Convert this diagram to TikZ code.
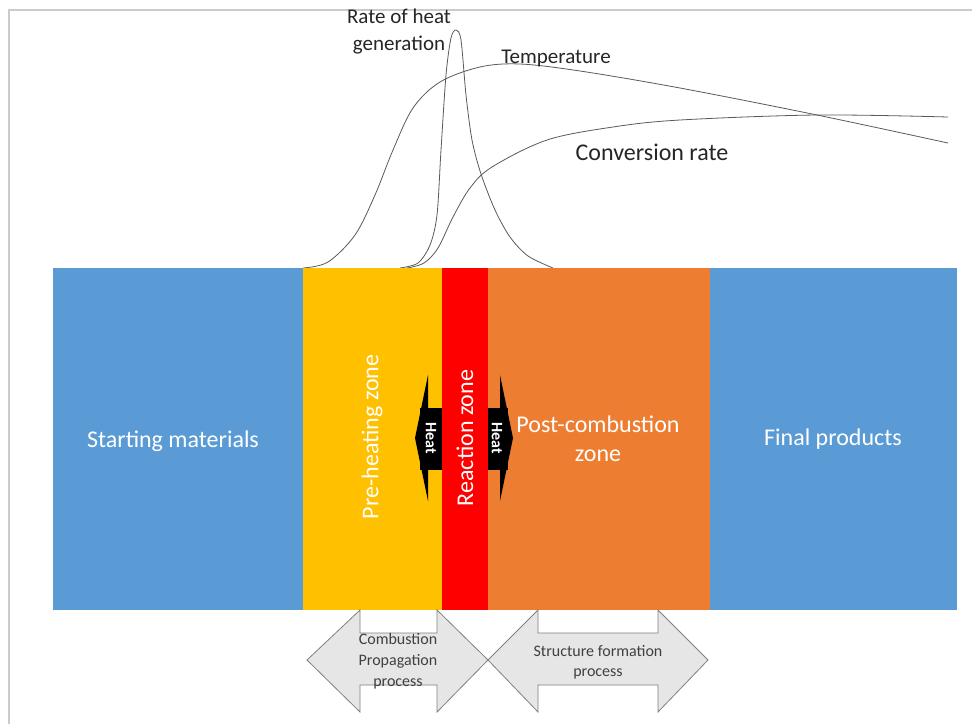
\documentclass[tikz,border=0pt]{standalone}
\usepackage{fontspec}
\setmainfont{Carlito}
\definecolor{zblue}{HTML}{5B9BD5}
\definecolor{zyellow}{HTML}{FFC000}
\definecolor{zred}{HTML}{FF0000}
\definecolor{zorange}{HTML}{ED7D31}
\definecolor{zgrayfill}{HTML}{E7E6E6}
\definecolor{zgrayline}{HTML}{808080}
\definecolor{zcurve}{HTML}{5A5A5A}
\definecolor{zframe}{HTML}{C8CCCC}
\tikzset{
  zone/.style={draw=none, inner sep=0pt, anchor=north west},
  zlabel/.style={text=white, font=\fontsize{24}{29}\selectfont, align=center},
  heatarrow/.style={fill=black, draw=none},
  heattext/.style={text=white, font=\fontsize{16}{17}\selectfont\bfseries, rotate=-90, inner sep=0pt},
  procarrow/.style={fill=zgrayfill, draw=zgrayline, line width=0.8pt, line join=miter},
  proctext/.style={text=black!75, font=\fontsize{16}{21}\selectfont, align=center},
  curve/.style={draw=zcurve, line width=0.8pt},
  curvelabel/.style={text=black!85, font=\fontsize{22}{27}\selectfont, align=center}
}
\begin{document}
\begin{tikzpicture}[x=1pt, y=-1pt]
\useasboundingbox (0,0) rectangle (972,724);
\fill[white] (0,0) rectangle (972,724);
% frame
\draw[zframe, line width=1.5pt] (9,724) -- (9,10) -- (972,10);
% curves
\draw[curve] plot[smooth, tension=0.55] coordinates {(303,268) (328,262) (355,235) (375,195) (393,150) (413,108) (440,82) (480,67) (520,64) (580,71) (680,88) (817,115) (948,143)};
\draw[curve] plot[smooth, tension=0.55] coordinates {(407,268) (424,263) (438,248) (453,217) (470,188) (492,167) (547,140) (613,127) (680,120) (817,115) (948,117)};
\draw[curve] plot[smooth, tension=0.5] coordinates {(400,268) (418,263) (430,245) (437,215) (441,150) (446,75) (451,38) (456,30) (461,40) (466,95) (472,140) (481,174) (495,210) (510,237) (528,256) (553,268)};
% curve labels
\node[curvelabel, font=\fontsize{21}{27}\selectfont] (rate) at (399,32) {Rate of heat\\generation};
\node[curvelabel, font=\fontsize{21}{25}\selectfont] (temp) at (556,58) {Temperature};
\node[curvelabel, font=\fontsize{24}{28}\selectfont] (conv) at (652,152) {Conversion rate};
% zones
\node[zone, fill=zblue, minimum width=250pt, minimum height=342pt] (start) at (53,268) {};
\node[zone, fill=zyellow, minimum width=139pt, minimum height=342pt] (pre) at (303,268) {};
\node[zone, fill=zred, minimum width=46pt, minimum height=342pt] (react) at (442,268) {};
\node[zone, fill=zorange, minimum width=222pt, minimum height=342pt] (post) at (488,268) {};
\node[zone, fill=zblue, minimum width=247pt, minimum height=342pt] (final) at (710,268) {};
% zone labels
\node[zlabel] (startlbl) at (173,441) {Starting materials};
\node[zlabel] (finallbl) at (833,439) {Final products};
\node[zlabel, rotate=90] (prelbl) at (372,437) {Pre-heating zone};
\node[zlabel, rotate=90] (reactlbl) at (465,438) {Reaction zone};
\node[zlabel] (postlbl) at (598,439) {Post-combustion\\zone};
% heat arrows
\fill[heatarrow] (428,375) -- (415,438) -- (428,501) -- cycle;
\fill[heatarrow] (420,408) rectangle (442,470);
\fill[heatarrow] (500,375) -- (513,438) -- (500,501) -- cycle;
\fill[heatarrow] (488,408) rectangle (508,470);
\node[heattext] (heatL) at (431,438) {Heat};
\node[heattext] (heatR) at (497,438) {Heat};
% process arrows
\draw[procarrow] (307,660) -- (360,610) -- (360,633) -- (437,633) -- (437,610) -- (488,660) -- (437,712) -- (437,685) -- (360,685) -- (360,712) -- cycle;
\draw[procarrow] (488,660) -- (538,610) -- (538,633) -- (658,633) -- (658,610) -- (708,660) -- (658,712) -- (658,685) -- (538,685) -- (538,712) -- cycle;
\node[proctext] (comb) at (398,661) {Combustion\\Propagation\\process};
\node[proctext, font=\fontsize{16}{20}\selectfont] (struct) at (598,662) {Structure formation\\process};
\end{tikzpicture}
\end{document}
